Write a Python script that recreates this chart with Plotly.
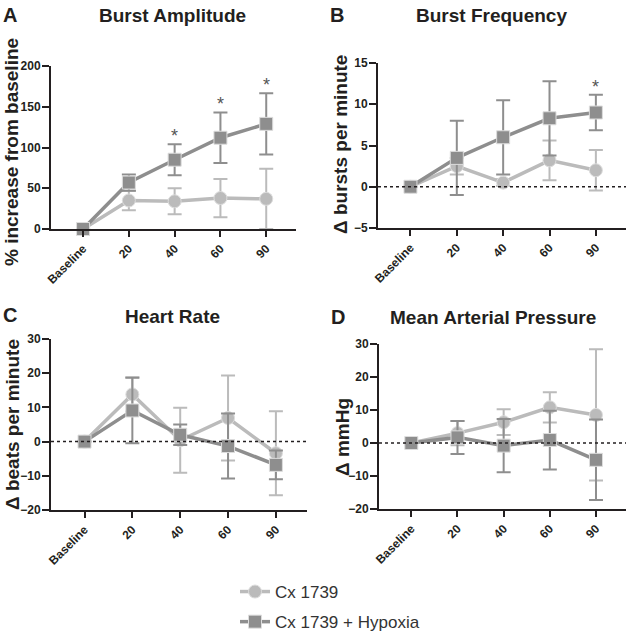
import plotly.graph_objects as go

W, H = 626, 633
categories = ["Baseline", "20", "40", "60", "90"]
xpos = [0, 1, 2, 3, 4]

# Panel A: Burst Amplitude (% increase from baseline)
amp_cx = [0, 35, 34, 38, 37]
amp_cx_err = [0, 12, 16, 23.5, 37]
amp_hyp = [0, 57, 85, 112, 129]
amp_hyp_err = [0, 10, 19, 31, 37.5]
amp_sig = [False, False, True, True, True]

# Panel B: Burst Frequency (delta bursts per minute)
freq_cx = [0, 2.5, 0.5, 3.2, 2.0]
freq_cx_err = [0, 1.0, 0.4, 2.4, 2.45]
freq_hyp = [0, 3.5, 6.0, 8.3, 9.0]
freq_hyp_err = [0, 4.5, 4.5, 4.5, 2.15]
freq_sig = [False, False, False, False, True]

# Panel C: Heart Rate (delta beats per minute)
hr_cx = [0, 13.8, 0.4, 6.9, -3.4]
hr_cx_err = [0, 5.0, 9.5, 12.4, 12.3]
hr_hyp = [0, 9.1, 2.0, -1.3, -6.8]
hr_hyp_err = [0, 9.6, 3.0, 9.5, 4.2]

# Panel D: Mean Arterial Pressure (delta mmHg)
map_cx = [0, 3.0, 6.3, 10.8, 8.5]
map_cx_err = [0, 3.7, 3.9, 4.6, 19.9]
map_hyp = [0, 1.7, -0.8, 0.9, -5.1]
map_hyp_err = [0, 5.0, 8.1, 8.9, 12.2]

LIGHT = "#bbbbbb"
DARK = "#8e8e8e"
TXT = "#231f20"
FONT = "Liberation Sans"

def px_x(a, b):
    return [a / W, b / W]

def px_y(top, bottom):
    return [(H - bottom) / H, (H - top) / H]

panels = [
    dict(x="x", y="y", xd=px_x(51, 296), yd=px_y(66, 229), yr=[0, 200], dt=50,
         cx=amp_cx, cxe=amp_cx_err, hy=amp_hyp, hye=amp_hyp_err, sig=amp_sig, zero=False),
    dict(x="x2", y="y2", xd=px_x(378, 626), yd=px_y(63, 228), yr=[-5, 15], dt=5,
         cx=freq_cx, cxe=freq_cx_err, hy=freq_hyp, hye=freq_hyp_err, sig=freq_sig, zero=True),
    dict(x="x3", y="y3", xd=px_x(51, 307), yd=px_y(339, 510), yr=[-20, 30], dt=10,
         cx=hr_cx, cxe=hr_cx_err, hy=hr_hyp, hye=hr_hyp_err, sig=None, zero=True),
    dict(x="x4", y="y4", xd=px_x(379, 626), yd=px_y(344, 509), yr=[-20, 30], dt=10,
         cx=map_cx, cxe=map_cx_err, hy=map_hyp, hye=map_hyp_err, sig=None, zero=True),
]

fig = go.Figure()
layout = dict(
    width=W, height=H, margin=dict(l=0, r=0, t=0, b=0, autoexpand=False),
    paper_bgcolor="white", plot_bgcolor="white",
    font=dict(family=FONT, color=TXT),
    showlegend=True,
    legend=dict(x=235 / W, y=(H - 574) / H, xanchor="left", yanchor="top",
                font=dict(size=17, color="#333333", family=FONT),
                tracegroupgap=5, traceorder="grouped", bgcolor="rgba(0,0,0,0)"),
)
annotations = []
shapes = []

for i, p in enumerate(panels):
    for name, vals, errs, col, sym in [
        ("Cx 1739", p["cx"], p["cxe"], LIGHT, "circle"),
        ("Cx 1739 + Hypoxia", p["hy"], p["hye"], DARK, "square"),
    ]:
        fig.add_trace(go.Scatter(
            x=xpos, y=vals, xaxis=p["x"], yaxis=p["y"], mode="lines+markers",
            name=name, legendgroup=name, showlegend=(i == 0),
            line=dict(color=col, width=3.5),
            marker=dict(symbol=sym, size=13, color=col,
                        line=dict(color="#dddddd", width=1)),
            error_y=dict(type="data", array=errs, visible=True, color=col,
                         thickness=2, width=7),
            cliponaxis=False,
        ))
    sfx = "" if i == 0 else str(i + 1)
    layout["xaxis" + sfx] = dict(
        domain=p["xd"], range=[-0.7, 4.65], anchor=p["y"], automargin=False,
        tickvals=xpos, ticktext=categories, tickangle=-45,
        showline=True, linecolor=TXT, linewidth=2, ticks="outside",
        ticklen=6, tickwidth=2, tickcolor=TXT, showgrid=False, zeroline=False,
        tickfont=dict(size=12, family=FONT, color=TXT, weight="bold"),
    )
    layout["yaxis" + sfx] = dict(
        domain=p["yd"], range=p["yr"], dtick=p["dt"], anchor=p["x"], automargin=False,
        showline=True, linecolor=TXT, linewidth=2, ticks="outside",
        ticklen=7, tickwidth=2, tickcolor=TXT, showgrid=False, zeroline=False,
        ticklabelstandoff=-1,
        tickfont=dict(size=12, family=FONT, color=TXT, weight="bold"),
    )
    if p["zero"]:
        shapes.append(dict(type="line", xref=p["x"] + " domain", yref=p["y"],
                           x0=0, x1=1, y0=0, y1=0,
                           line=dict(color=TXT, width=1.5, dash="dot")))
    if p["sig"]:
        for xv, v, e, s in zip(xpos, p["hy"], p["hye"], p["sig"]):
            if s:
                annotations.append(dict(x=xv, y=v + e, xref=p["x"], yref=p["y"],
                                        text="*", showarrow=False, yanchor="bottom",
                                        yshift=-4, font=dict(size=18, color="#555555", family=FONT)))

titles = [("Burst Amplitude", 172, 16), ("Burst Frequency", 491, 16),
          ("Heart Rate", 172, 316), ("Mean Arterial Pressure", 493, 317)]
for t, x, y in titles:
    annotations.append(dict(text="<b>" + t + "</b>", x=x / W, y=(H - y) / H, xref="paper",
                            yref="paper", showarrow=False, xanchor="center", yanchor="middle",
                            font=dict(size=19, color=TXT, family=FONT)))
letters = [("A", 10, 15), ("B", 337, 15), ("C", 10, 315), ("D", 338, 317)]
for t, x, y in letters:
    annotations.append(dict(text="<b>" + t + "</b>", x=x / W, y=(H - y) / H, xref="paper",
                            yref="paper", showarrow=False, xanchor="center", yanchor="middle",
                            font=dict(size=20, color=TXT, family=FONT)))
ytitles = [("% increase from baseline", 11, 152), ("Δ bursts per minute", 340, 144),
           ("Δ beats per minute", 12, 425), ("Δ mmHg", 342, 437)]
for t, x, y in ytitles:
    annotations.append(dict(text="<b>" + t + "</b>", x=x / W, y=(H - y) / H, xref="paper",
                            yref="paper", showarrow=False, xanchor="center", yanchor="middle",
                            textangle=-90, font=dict(size=19, color=TXT, family=FONT)))

layout["annotations"] = annotations
layout["shapes"] = shapes
fig.update_layout(**layout)
fig.write_html("out.html", config={"displayModeBar": False},
               post_script="document.body.style.margin='0';document.body.style.padding='0';")
